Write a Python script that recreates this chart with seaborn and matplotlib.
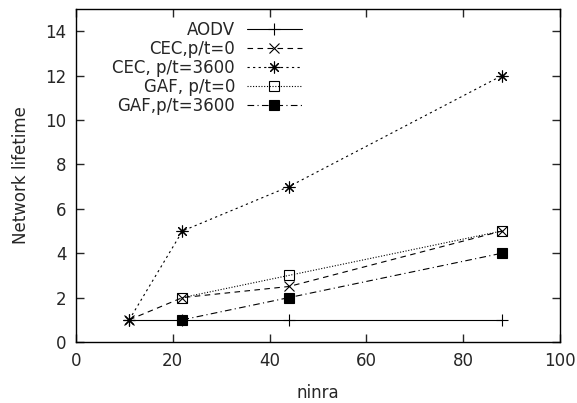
import numpy as np
import seaborn as sns
import matplotlib.pyplot as plt

# data
nodes = [11, 22, 44, 88]
aodv = [1, 1, 1, 1]
cec_0 = [1, 2, 2.5, 5]
cec_3600 = [1, 5, 7, 12]
gaf_x = [22, 44, 88]
gaf_0 = [2, 3, 5]
gaf_3600 = [1, 2, 4]

sns.set_style('white')
plt.rcParams['font.family'] = ['DejaVu Sans']
fs = 12

fig = plt.figure(figsize=(5.77, 4.03), dpi=100)
ax = fig.add_axes([0.1317, 0.1514, 0.839, 0.8263])

series = [
    (nodes, aodv, 'AODV', '-', '+', 'black', 8),
    (nodes, cec_0, 'CEC,p/t=0', (0, (5, 4)), 'x', 'black', 7),
    (nodes, cec_3600, 'CEC, p/t=3600', (0, (2, 3)), (8, 2, 0), 'black', 8.5),
    (gaf_x, gaf_0, 'GAF, p/t=0', (0, (1, 1.5)), 's', 'none', 7),
    (gaf_x, gaf_3600, 'GAF,p/t=3600', (0, (6, 3, 1, 3)), 's', 'black', 6.5),
]

for xs, ys, name, ls, mk, fc, ms in series:
    sns.lineplot(x=xs, y=ys, ax=ax, color='black', linewidth=0.8,
                 linestyle=ls, marker=mk, markersize=ms,
                 markerfacecolor=fc, markeredgecolor='black',
                 markeredgewidth=0.8, label=name)

ax.set_xlim(0, 100)
ax.set_ylim(0, 15)
ax.set_xticks(np.arange(0, 101, 20))
ax.set_yticks(np.arange(0, 15, 2))
ax.tick_params(direction='in', length=6, width=1, top=True, right=True,
               bottom=True, left=True, labelsize=fs, pad=7)
for sp in ax.spines.values():
    sp.set_color('black')
    sp.set_linewidth(1.0)

ax.set_xlabel('ninra', fontsize=fs, labelpad=10)
ax.set_ylabel('Network lifetime', fontsize=fs, labelpad=11)

ax.legend(loc='upper left', bbox_to_anchor=(0.058, 0.99), frameon=False,
          markerfirst=False, borderpad=0, labelspacing=0.07,
          handlelength=3.3, handletextpad=0.7, fontsize=fs)

fig.savefig('out.png', dpi=100)
